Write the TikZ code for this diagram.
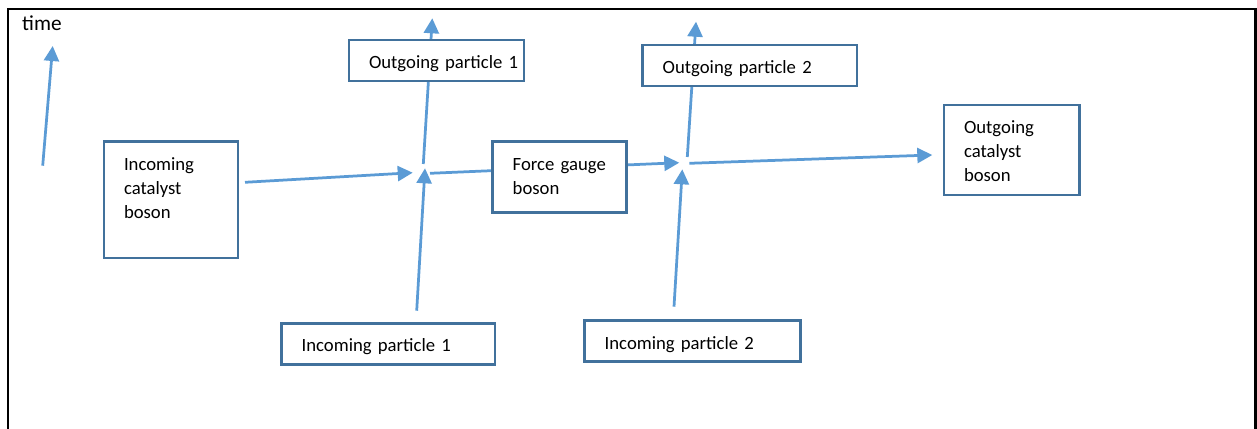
\documentclass[tikz,border=0pt]{standalone}
\usepackage{fontspec}
\setmainfont{Carlito}
\usetikzlibrary{arrows.meta,backgrounds}

\definecolor{lineblue}{RGB}{91,155,213}
\definecolor{boxblue}{RGB}{65,113,156}

\tikzset{
  box/.style={draw=boxblue, line width=2.5pt, fill=white, anchor=north west,
    outer sep=0pt, align=left, inner xsep=20pt, inner ysep=0pt, text height=28.5pt,
    font=\fontsize{18.7pt}{24pt}\selectfont},
  flow/.style={draw=lineblue, line width=2.75pt, -{Triangle[length=15pt,width=15pt]}},
}

\begin{document}
\begin{tikzpicture}[x=1pt,y=-1pt]
  \useasboundingbox (0,0) rectangle (1257,428);

  % boxes
  \node[box, text width=94pt, text depth=87.7pt] (icb) at (104,141.7) {Incoming\\catalyst\\boson};
  \node[box, text width=135pt, text depth=12.4pt] (op1) at (349,40) {\mbox{Outgoing particle 1}};
  \node[box, text width=94pt, text depth=42.4pt] (fgb) at (492.7,141.7) {\mbox{Force gauge}\\boson};
  \node[box, text width=174.3pt, text depth=12.7pt] (op2) at (642.7,45) {\mbox{Outgoing particle 2}};
  \node[box, text width=95.3pt, text depth=61.4pt] (ocb) at (944,105) {Outgoing\\catalyst\\boson};
  \node[box, text width=173.3pt, text depth=12.7pt] (ip1) at (281.7,323.3) {\mbox{Incoming particle 1}};
  \node[box, text width=176pt, text depth=12.4pt] (ip2) at (584.7,320.7) {\mbox{Incoming particle 2}};

  \node[anchor=base west, inner sep=0pt, font=\fontsize{21.3pt}{25pt}\selectfont] (time) at (22,30.7) {time};

  % line ends
  \coordinate (t0) at (42.7,165.7);   \coordinate (t1) at (52.7,46);
  \coordinate (icbout) at (245,182.3); \coordinate (v1left) at (412.7,172.7);
  \coordinate (ip1out) at (416.7,310.7); \coordinate (v1low) at (425,168.3);
  \coordinate (v1up) at (423.3,164);  \coordinate (op1end) at (432.3,18.3);
  \coordinate (v1right) at (430,173.3); \coordinate (v2left) at (679.3,162.7);
  \coordinate (ip2out) at (674,306.7); \coordinate (v2low) at (682.3,169.3);
  \coordinate (v2up) at (687.3,157);  \coordinate (op2end) at (696,21.7);
  \coordinate (v2right) at (689.3,163.3); \coordinate (ocbin) at (932.3,155);

  \begin{pgfonlayer}{background}
    \draw[flow] (t0) -- (t1);
    \draw[flow] (icbout) -- (v1left);
    \draw[flow] (ip1out) -- (v1low);
    \draw[flow] (v1up) -- (op1end);
    \draw[flow] (v1right) -- (v2left);
    \draw[flow] (ip2out) -- (v2low);
    \draw[flow] (v2up) -- (op2end);
    \draw[flow] (v2right) -- (ocbin);
  \end{pgfonlayer}

  % frame
  \draw[line width=2.5pt] (8,440) -- (8,9) -- (1255.5,9) -- (1255.5,440);
\end{tikzpicture}
\end{document}
